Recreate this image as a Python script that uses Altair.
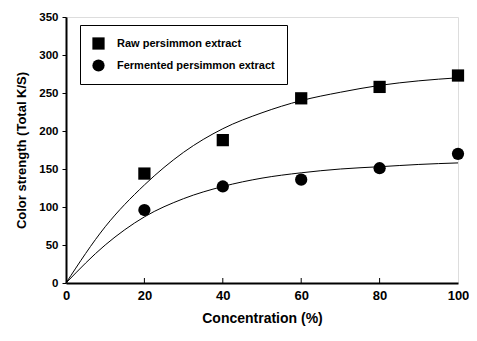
import altair as alt
import pandas as pd

# Measured points
conc = [20, 40, 60, 80, 100]
raw_vals = [144, 188, 243, 258, 273]
ferm_vals = [96, 127, 136, 151, 170]

# Fitted curves
curve_x = [0, 10, 20, 30, 40, 50, 60, 70, 80, 90, 100]
raw_curve = [0, 74, 129, 172, 203, 224, 240, 251, 260, 266, 270]
ferm_curve = [0, 50, 87, 111, 127, 138, 145, 150, 153, 156, 158]

x_ticks = [0, 20, 40, 60, 80, 100]
inner_ticks = [20, 40, 60, 80]

RAW = "Raw persimmon extract"
FERM = "Fermented persimmon extract"
FONT = "Liberation Sans"

pts = pd.DataFrame({
    "conc": conc + conc,
    "value": raw_vals + ferm_vals,
    "series": [RAW] * len(conc) + [FERM] * len(conc),
})
curves = pd.DataFrame({
    "conc": curve_x + curve_x,
    "value": raw_curve + ferm_curve,
    "series": [RAW] * len(curve_x) + [FERM] * len(curve_x),
})

xscale = alt.Scale(domain=[0, 100], nice=False, zero=True)
yscale = alt.Scale(domain=[0, 350], nice=False)

xaxis = alt.Axis(values=x_ticks, title="Concentration (%)", tickSize=0, ticks=False,
                 labelFlush=False,
                 labelFontSize=13, labelFontWeight="bold", labelPadding=6,
                 titleFontSize=14, titleFontWeight="bold", titlePadding=9,
                 grid=False, domainColor="black", domainWidth=2,
                 labelColor="black", titleColor="black", labelFont=FONT, titleFont=FONT)
yaxis = alt.Axis(values=list(range(0, 351, 50)), title="Color strength (Total K/S)",
                 tickSize=4, tickColor="black", tickWidth=1, labelFlush=False,
                 labelFontSize=11.5, labelFontWeight="bold", labelPadding=4,
                 titleFontSize=13, titleFontWeight="bold", titlePadding=10,
                 grid=False, domainColor="black", domainWidth=2,
                 labelColor="black", titleColor="black", labelFont=FONT, titleFont=FONT)

lines = alt.Chart(curves).mark_line(color="black", strokeWidth=1, interpolate="monotone").encode(
    x=alt.X("conc:Q", scale=xscale, axis=xaxis),
    y=alt.Y("value:Q", scale=yscale, axis=yaxis),
    detail="series:N",
)

points = alt.Chart(pts).mark_point(filled=True, opacity=1, color="black", size=150).encode(
    x=alt.X("conc:Q", scale=xscale, axis=xaxis),
    y=alt.Y("value:Q", scale=yscale, axis=yaxis),
    shape=alt.Shape("series:N",
                    scale=alt.Scale(domain=[RAW, FERM], range=["square", "circle"]),
                    legend=alt.Legend(title=None, orient="none", legendX=14, legendY=8,
                                      strokeColor="black", fillColor="white", padding=12,
                                      symbolSize=150, symbolFillColor="black",
                                      symbolStrokeColor="black", symbolStrokeWidth=0,
                                      labelFont=FONT, labelFontSize=11, labelFontWeight="bold",
                                      labelColor="black", rowPadding=9, labelOffset=12,
                                      labelLimit=300)),
)

ticks = alt.Chart(pd.DataFrame({"conc": inner_ticks})).mark_rule(color="black", strokeWidth=1).encode(
    x=alt.X("conc:Q", scale=xscale, axis=xaxis),
    y=alt.value(266),
    y2=alt.value(261),
)

chart = alt.layer(lines, points, ticks).properties(
    width=392, height=266,
    autosize=alt.AutoSizeParams(type="none"),
    padding={"left": 58, "top": 9, "right": 11, "bottom": 50},
).configure_view(stroke="black", strokeWidth=2).configure(background="white")

chart.save("out.html", embed_options={"renderer": "svg", "actions": False})
